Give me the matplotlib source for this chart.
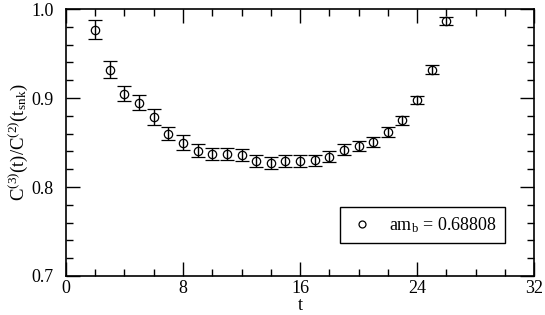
import numpy as np
import matplotlib
matplotlib.use("Agg")
import matplotlib.pyplot as plt
from matplotlib.ticker import MultipleLocator
from matplotlib.lines import Line2D

plt.rcParams['font.family'] = ['Liberation Serif', 'DejaVu Serif']
plt.rcParams['mathtext.fontset'] = 'custom'
plt.rcParams['mathtext.rm'] = 'Liberation Serif'
plt.rcParams['mathtext.it'] = 'Liberation Serif:italic'

t = [2, 3, 4, 5, 6, 7, 8, 9, 10, 11, 12, 13, 14,
     15, 16, 17, 18, 19, 20, 21, 22, 23, 24, 25, 26]
ratio = [0.977, 0.932, 0.905, 0.895, 0.879, 0.860, 0.850, 0.841, 0.837, 0.837, 0.836, 0.829, 0.827,
         0.829, 0.829, 0.830, 0.834, 0.842, 0.846, 0.851, 0.862, 0.875, 0.898, 0.932, 0.987]
err = [0.011, 0.0097, 0.0084, 0.0086, 0.0088, 0.0075, 0.008, 0.0075, 0.007, 0.007, 0.007, 0.007, 0.007,
       0.0068, 0.0068, 0.0065, 0.0062, 0.006, 0.006, 0.0056, 0.006, 0.005, 0.0047, 0.0047, 0.0045]
label = r'$\mathrm{am_b}$ = 0.68808'

fig = plt.figure(figsize=(5.45, 3.15), dpi=100)
ax = fig.add_axes([0.121, 0.124, 0.859, 0.847])

ax.errorbar(t, ratio, yerr=err, fmt='o', mfc='none', mec='black', ecolor='black',
            ms=6, mew=0.9, elinewidth=1, capsize=5, capthick=1)

ax.set_xlim(0, 32)
ax.set_ylim(0.7, 1.0)
ax.xaxis.set_major_locator(MultipleLocator(8))
ax.xaxis.set_minor_locator(MultipleLocator(2))
ax.yaxis.set_major_locator(MultipleLocator(0.1))
ax.yaxis.set_minor_locator(MultipleLocator(0.02))
ax.tick_params(which='both', direction='in', top=True, right=True, labelsize=13, width=1)
ax.tick_params(which='major', length=10)
ax.tick_params(which='minor', length=5)
ax.tick_params(axis='y', which='major', pad=9)
ax.tick_params(axis='x', which='major', pad=3)
for s in ax.spines.values():
    s.set_linewidth(1.2)

ax.set_xlabel('t', fontsize=13, labelpad=0)
ax.set_ylabel(r'$\mathrm{C^{(3)}(t)/C^{(2)}(t_{snk})}$', fontsize=13.5, labelpad=1)

handle = Line2D([], [], ls='none', marker='o', mfc='none', mec='black', ms=5, mew=0.9)
leg = ax.legend([handle], [label], loc='lower right', bbox_to_anchor=(0.938, 0.124),
                borderaxespad=0, fontsize=13, handletextpad=0.75, handlelength=1.5,
                frameon=True, fancybox=False, borderpad=0.45, framealpha=1)
leg.get_frame().set_edgecolor('black')
leg.get_frame().set_linewidth(1)

fig.savefig('out.png', dpi=100)
